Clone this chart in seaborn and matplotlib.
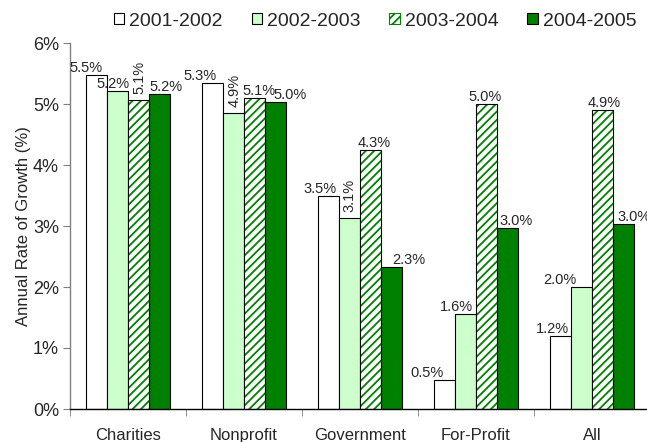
import numpy as np
import pandas as pd
import seaborn as sns
import matplotlib.pyplot as plt
from matplotlib.patches import Rectangle
from matplotlib.ticker import FuncFormatter

# data (annual rate of growth, %)
sectors = ['Charities', 'Nonprofit', 'Government', 'For-Profit', 'All']
periods = ['2001-2002', '2002-2003', '2003-2004', '2004-2005']
g_0102 = [5.48, 5.35, 3.49, 0.47, 1.20]
g_0203 = [5.22, 4.86, 3.13, 1.56, 2.00]
g_0304 = [5.07, 5.10, 4.25, 5.00, 4.90]
g_0405 = [5.17, 5.03, 2.33, 2.97, 3.03]
lab_0102 = ['5.5%', '5.3%', '3.5%', '0.5%', '1.2%']
lab_0203 = ['5.2%', '4.9%', '3.1%', '1.6%', '2.0%']
lab_0304 = ['5.1%', '5.1%', '4.3%', '5.0%', '4.9%']
lab_0405 = ['5.2%', '5.0%', '2.3%', '3.0%', '3.0%']

series = [g_0102, g_0203, g_0304, g_0405]
labels = [lab_0102, lab_0203, lab_0304, lab_0405]

# label nudges in pixels (x), like the Excel label placement
dx = [[-10, -12, -8, -17, -8],
      [-4, 1, 0, -9, -22],
      [1, 4, 4, -2, 2],
      [6, 14, 17, 8, 10]]
rotated = [(2, 0), (1, 1), (1, 2)]

rows = []
for p, vals in zip(periods, series):
    for s, v in zip(sectors, vals):
        rows.append({'sector': s, 'period': p, 'growth': v})
df = pd.DataFrame(rows)

sns.set_style('white')
plt.rcParams['font.family'] = ['Liberation Sans', 'DejaVu Sans']
plt.rcParams['hatch.linewidth'] = 1.3

green = '#008000'
light = '#CCFFCC'
pal = ['white', light, 'white', green]

fig = plt.figure(figsize=(6.47, 4.42), dpi=100)
ax = fig.add_axes([70/647, 33/442, 580/647, 366/442])

sns.barplot(data=df, x='sector', y='growth', hue='period', order=sectors,
            hue_order=periods, palette=pal, width=0.73, saturation=1,
            edgecolor='black', linewidth=0.8, legend=False, ax=ax)

# hatched series: green stripes, black outline on top
for bar in ax.containers[2]:
    bar.set_edgecolor(green)
    bar.set_hatch('////')
    bar.set_linewidth(0)
    ax.add_patch(Rectangle(bar.get_xy(), bar.get_width(), bar.get_height(),
                           fill=False, edgecolor='black', linewidth=0.8, zorder=bar.get_zorder() + 0.1))

# value labels
for k, cont in enumerate(ax.containers):
    for i, bar in enumerate(cont):
        x = bar.get_x() + bar.get_width() / 2
        h = bar.get_height()
        if (k, i) in rotated:
            ax.annotate(labels[k][i], (x, h), xytext=(dx[k][i], 6), textcoords='offset pixels',
                        ha='center', va='bottom', rotation=90, fontsize=10.5)
        else:
            ax.annotate(labels[k][i], (x, h), xytext=(dx[k][i], 3), textcoords='offset pixels',
                        ha='center', va='baseline', fontsize=10.5)

ax.set_ylim(0, 6)
ax.set_xlim(-0.5, 4.5)
ax.set_yticks(range(0, 7))
ax.yaxis.set_major_formatter(FuncFormatter(lambda v, p: '%d%%' % v))
ax.set_ylabel('Annual Rate of Growth (%)', fontsize=12, labelpad=1)
ax.set_xlabel('')
ax.tick_params(axis='y', labelsize=13, length=5, direction='out', left=True, width=0.8, color='#808080', pad=3)
ax.tick_params(axis='x', which='major', length=0, labelsize=12, pad=14)
ax.set_xticks(np.arange(-0.5, 5.0, 1.0), minor=True)
ax.tick_params(axis='x', which='minor', length=5, bottom=True, direction='out', color='#808080')

for side in ['top', 'right']:
    ax.spines[side].set_visible(False)
ax.spines['left'].set_color('#808080')
ax.spines['bottom'].set_color('black')
ax.spines['left'].set_linewidth(1)
ax.spines['bottom'].set_linewidth(1)

# legend
handles = []
for k, p in enumerate(periods):
    r = Rectangle((0, 0), 1, 1, facecolor=pal[k], edgecolor='black', linewidth=0.8)
    if k == 2:
        r = Rectangle((0, 0), 1, 1, facecolor='white', edgecolor=green, hatch='////', linewidth=0.8)
    handles.append(r)
fig.legend(handles, periods, loc='center', bbox_to_anchor=(375/647, 1 - 21/442), ncol=4,
           frameon=False, fontsize=14, handlelength=0.52, handleheight=0.52,
           handletextpad=0.26, columnspacing=1.5, borderaxespad=0, borderpad=0)

fig.savefig('out.png', dpi=100)
